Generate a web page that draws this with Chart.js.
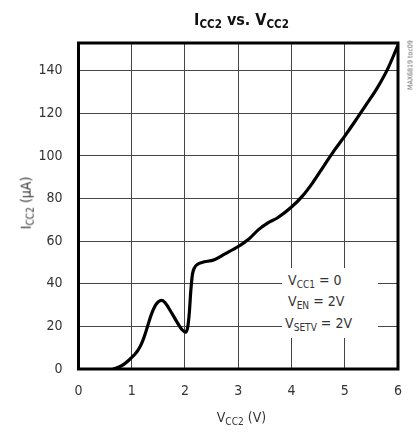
<!DOCTYPE html>
<html>
<head>
<meta charset="utf-8">
<script src="https://cdn.jsdelivr.net/npm/chart.js@4"></script>
<style>
  html, body { margin: 0; padding: 0; background: #fff; }
  #wrap { position: relative; width: 416px; height: 433px; font-family: "DejaVu Sans Condensed", "Liberation Sans", sans-serif; color: #333; }
  #chart { position: absolute; left: 0; top: 0; }
  .lbl { position: absolute; white-space: nowrap; line-height: 1; }
  .lbl sub { font-size: 72%; vertical-align: -0.25em; }
  #title { left: 0; width: 483px; top: 12px; text-align: center; font-weight: bold; font-size: 16px; color: #111; }
  #xtitle { left: 0; width: 483px; top: 410px; text-align: center; font-size: 14px; }
  #ytitle { left: 27px; top: 203px; font-size: 14px; transform: translate(-50%, -50%) rotate(-90deg); }
  #note { left: 282px; top: 268px; width: 96px; height: 70px; background: #fff; font-size: 14px; }
  #note div { position: absolute; left: 6px; }
  #side { left: 411px; top: 65px; font-size: 7px; color: #666; transform: translate(-50%, -50%) rotate(-90deg); }
</style>
</head>
<body>
<div id="wrap">
  <canvas id="chart" width="416" height="433"></canvas>
  <div class="lbl" id="title">I<sub>CC2</sub> vs. V<sub>CC2</sub></div>
  <div class="lbl" id="xtitle">V<sub>CC2</sub> (V)</div>
  <div class="lbl" id="ytitle">I<sub>CC2</sub> (µA)</div>
  <div class="lbl" id="note">
    <div style="top:5px">V<sub>CC1</sub> = 0</div>
    <div style="top:26px">V<sub>EN</sub> = 2V</div>
    <div style="top:48px; left:3px">V<sub>SETV</sub> = 2V</div>
  </div>
  <div class="lbl" id="side">MAX6819 toc09</div>
</div>
<script>
// supply voltage (V) and supply current (uA)
const vcc2 = [0.65, 0.75, 0.85, 0.95, 1.0, 1.05, 1.1, 1.15, 1.2, 1.25, 1.3, 1.35, 1.4, 1.45, 1.5, 1.56, 1.62, 1.68, 1.75, 1.82, 1.89, 1.95, 2.01, 2.05, 2.08, 2.11, 2.14, 2.18, 2.24, 2.32, 2.55, 2.75, 3.0, 3.2, 3.38, 3.55, 3.74, 4.0, 4.2, 4.4, 4.6, 4.8, 5.0, 5.2, 5.4, 5.6, 5.8, 6.0];
const icc2 = [0, 0.8, 2.2, 4.2, 5.5, 6.7, 8.2, 10.2, 12.8, 16.3, 20.3, 24.3, 27.6, 30.1, 31.6, 32.2, 31.3, 29.2, 26.3, 23.3, 20.4, 18.3, 17.3, 19.5, 26, 37, 44.5, 47.6, 49.2, 50, 51.3, 54, 57.5, 61, 65.4, 68.5, 71, 76, 81, 87.5, 95, 102.5, 109.3, 116.5, 124, 131.5, 140.5, 152];

const xTicks = [0, 1, 2, 3, 4, 5, 6];
const yTicks = [0, 20, 40, 60, 80, 100, 120, 140];

const font = { family: '"DejaVu Sans Condensed", "Liberation Sans", sans-serif', size: 14 };

const frame = {
  id: 'frame',
  afterDatasetsDraw(chart) {
    const a = chart.chartArea;
    const ctx = chart.ctx;
    ctx.save();
    ctx.strokeStyle = '#000';
    ctx.lineWidth = 3;
    ctx.strokeRect(a.left, a.top, a.right - a.left, a.bottom - a.top);
    ctx.restore();
  }
};

new Chart(document.getElementById('chart'), {
  type: 'line',
  data: {
    datasets: [{
      data: vcc2.map((v, i) => ({ x: v, y: icc2[i] })),
      borderColor: '#000',
      borderWidth: 3.2,
      pointRadius: 0,
      cubicInterpolationMode: 'monotone',
      fill: false
    }]
  },
  options: {
    responsive: false,
    animation: false,
    layout: { padding: { top: 43, right: 11, left: 0, bottom: 0 } },
    plugins: { legend: { display: false }, tooltip: { enabled: false } },
    scales: {
      x: {
        type: 'linear',
        min: 0,
        max: 6,
        afterBuildTicks(s) { s.ticks = xTicks.map(v => ({ value: v })); },
        afterFit(s) { s.height = 64; },
        grid: { color: '#444', lineWidth: 1, drawTicks: false },
        border: { display: false },
        ticks: { color: '#333', font: font, padding: 14 }
      },
      y: {
        min: 0,
        max: 153,
        afterBuildTicks(s) { s.ticks = yTicks.map(v => ({ value: v })); },
        afterFit(s) { s.width = 78.5; },
        grid: { color: '#444', lineWidth: 1, drawTicks: false },
        border: { display: false },
        ticks: { color: '#333', font: font, padding: 16 }
      }
    }
  },
  plugins: [frame]
});
</script>
</body>
</html>
